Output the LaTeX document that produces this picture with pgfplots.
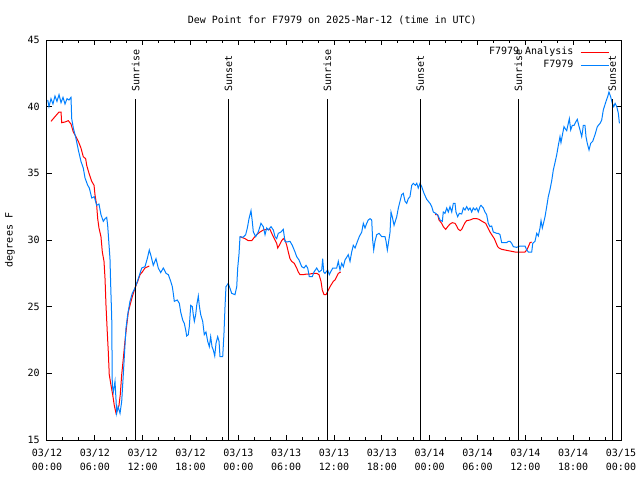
\documentclass[border=0pt]{standalone}
\usepackage{fontspec}
\setmainfont{DejaVu Sans Mono}
\usepackage{pgfplots}
\pgfplotsset{compat=1.18}
\definecolor{gpblue}{RGB}{0,128,255}
\definecolor{gpred}{RGB}{255,0,0}
\pgfplotstableread{
h v
0.09 40.5
0.25 40.0
0.50 40.6
0.75 40.2
1.00 40.8
1.25 40.4
1.51 40.9
1.76 40.3
2.01 40.7
2.26 40.2
2.51 40.6
2.76 40.5
3.01 40.7
3.10 39.1
3.30 38.4
3.64 37.6
3.93 36.75
4.26 35.9
4.55 35.4
4.77 34.65
5.11 34.1
5.31 33.9
5.61 33.15
5.93 33.25
6.23 32.6
6.52 32.7
6.77 31.9
7.06 31.4
7.28 31.6
7.49 31.7
7.61 31.1
7.90 28.6
7.99 26.6
8.12 24.15
8.19 19.1
8.32 18.6
8.53 19.4
8.66 18.0
8.74 17.0
8.91 17.5
9.16 17.0
9.37 17.9
9.57 19.9
9.78 22.1
9.91 23.4
10.12 24.4
10.41 25.4
10.70 26.0
11.04 26.4
11.45 27.1
11.88 27.9
12.29 28.0
12.58 28.6
12.83 29.25
13.05 28.8
13.33 28.1
13.67 28.6
13.96 27.9
14.26 27.55
14.59 27.9
14.93 27.5
15.22 27.4
15.52 26.9
15.72 26.5
15.84 26.0
15.97 25.4
16.34 25.5
16.60 25.25
16.77 24.6
17.02 24.0
17.22 23.75
17.40 23.25
17.52 22.8
17.72 22.9
17.85 23.5
18.03 25.1
18.23 25.0
18.35 24.4
18.48 23.9
18.65 24.4
18.78 25.1
18.98 25.8
19.10 25.1
19.28 24.4
19.53 23.9
19.73 22.9
19.94 23.1
20.16 22.4
20.36 22.0
20.53 22.75
20.70 22.0
20.86 21.75
21.04 21.3
21.20 22.25
21.41 22.75
21.58 22.4
21.70 21.25
22.04 21.25
22.20 23.0
22.33 25.0
22.45 26.5
22.74 26.75
23.17 26.0
23.58 25.9
23.80 26.5
23.92 27.9
24.08 28.9
24.21 30.25
24.58 30.2
24.92 30.4
25.13 30.9
25.34 31.6
25.59 32.2
25.75 31.4
25.88 30.6
26.18 30.25
26.50 30.6
26.84 31.25
27.13 31.0
27.35 30.4
27.56 30.9
27.76 30.75
28.10 31.0
28.39 30.75
28.60 30.25
28.81 30.1
29.01 30.5
29.35 30.6
29.64 30.8
29.85 29.9
30.07 29.85
30.48 29.9
30.77 29.6
31.11 29.1
31.32 28.75
31.61 28.5
31.95 28.0
32.24 27.9
32.49 28.1
32.70 27.9
32.90 27.25
33.28 27.25
33.49 27.6
33.83 27.9
34.12 27.6
34.46 27.75
34.58 28.6
34.71 27.6
34.87 27.5
35.21 27.75
35.41 27.4
35.71 27.75
35.84 27.9
36.13 27.9
36.34 27.9
36.54 28.4
36.75 27.75
36.97 28.25
37.17 28.0
37.38 28.5
37.79 28.9
38.01 28.4
38.22 29.1
38.42 29.6
38.64 29.4
38.85 29.75
39.17 30.25
39.48 30.6
39.68 31.25
39.89 30.9
40.10 31.25
40.30 31.5
40.52 31.6
40.73 31.5
40.85 30.0
40.98 29.25
41.14 29.9
41.36 30.4
41.65 30.5
41.99 30.25
42.40 30.25
42.53 29.9
42.69 29.25
42.86 29.9
43.03 30.6
43.15 32.1
43.31 31.75
43.53 31.1
43.87 31.75
44.07 32.4
44.28 32.9
44.49 33.4
44.69 33.5
44.91 32.9
45.12 32.75
45.32 33.1
45.53 33.25
45.75 34.1
45.95 34.25
46.20 34.1
46.38 34.25
46.57 33.9
46.79 34.25
47.00 34.0
47.29 33.5
47.63 33.05
48.04 32.75
48.26 32.5
48.46 32.1
48.76 32.0
49.08 31.8
49.30 31.5
49.59 31.4
49.71 32.1
49.92 32.0
50.14 32.4
50.34 32.1
50.55 32.5
50.77 32.1
50.97 32.75
51.18 32.75
51.30 32.1
51.51 31.75
51.72 32.0
52.02 31.95
52.22 32.4
52.43 32.25
52.64 32.5
52.85 32.25
53.06 32.4
53.27 32.1
53.47 32.4
53.69 32.25
53.90 32.4
54.10 32.1
54.31 32.5
54.44 32.6
54.73 32.4
54.94 32.1
55.15 31.9
55.35 31.25
55.57 31.0
55.78 31.05
55.98 30.6
56.41 30.5
56.61 30.5
56.82 30.4
57.04 29.8
57.66 29.8
57.86 29.9
58.08 29.9
58.29 29.75
58.49 29.5
58.92 29.45
59.33 29.55
59.96 29.55
60.17 29.25
60.38 29.1
60.80 29.1
60.93 29.75
61.21 29.9
61.43 30.5
61.63 30.3
61.84 30.9
61.97 31.45
62.13 30.9
62.26 31.2
62.47 31.75
62.68 32.5
62.88 33.25
63.10 33.8
63.31 34.45
63.51 35.25
63.72 35.8
63.94 36.4
64.14 37.1
64.35 37.75
64.47 37.3
64.69 38.0
64.85 38.5
65.06 38.3
65.19 38.2
65.39 38.75
65.52 39.1
65.69 38.25
65.89 38.6
66.11 38.6
66.32 38.85
66.52 39.05
66.70 38.6
66.86 38.25
67.07 37.75
67.20 38.25
67.27 38.6
67.48 38.6
67.61 37.75
67.77 37.25
67.99 36.75
68.20 37.25
68.45 37.4
68.74 37.9
69.03 38.5
69.37 38.75
69.58 39.0
69.78 39.75
70.12 40.4
70.33 40.75
70.49 41.1
70.70 40.75
70.91 40.25
71.09 40.0
71.26 40.25
71.47 40.0
71.67 39.5
71.80 38.75
}\obs
\pgfplotstableread{
h v
0.50 38.9
1.22 39.4
1.51 39.6
1.76 39.6
1.84 38.8
2.26 38.85
2.67 38.95
3.01 38.7
3.30 38.1
3.64 37.75
3.93 37.4
4.26 36.9
4.55 36.25
4.85 36.1
4.98 35.6
5.27 35.0
5.61 34.4
5.90 34.1
6.02 33.4
6.23 32.6
6.36 31.6
6.52 30.9
6.77 30.25
6.94 29.1
7.15 28.4
7.28 27.1
7.40 25.1
7.56 23.1
7.69 21.6
7.81 19.9
8.03 19.1
8.24 18.4
8.44 17.6
8.66 17.0
8.87 17.3
9.03 17.6
9.19 18.4
9.37 19.9
9.57 21.1
9.78 22.4
10.00 23.6
10.20 24.6
10.41 25.1
10.70 25.75
11.04 26.4
11.38 26.9
11.67 27.4
11.95 27.6
12.29 27.9
12.83 28.05
18.00 nan
24.21 30.25
24.84 30.1
25.25 29.95
25.68 29.95
26.00 30.2
26.30 30.4
26.72 30.6
27.13 30.75
27.56 30.8
27.97 30.8
28.19 30.5
28.51 30.1
28.81 29.75
28.94 29.4
29.14 29.6
29.44 29.95
29.64 30.1
29.85 30.0
30.07 29.6
30.27 29.1
30.48 28.6
30.69 28.4
31.02 28.25
31.32 27.9
31.52 27.6
31.74 27.4
32.15 27.4
32.58 27.45
32.99 27.45
33.40 27.5
33.83 27.5
34.12 27.4
34.37 26.9
34.53 26.25
34.75 25.9
35.00 25.9
35.29 26.25
35.50 26.5
35.71 26.7
35.91 26.9
36.13 27.0
36.34 27.25
36.54 27.5
36.84 27.6
42.00 nan
48.67 31.9
49.00 31.9
49.17 31.5
49.51 31.25
49.71 31.0
50.01 30.8
50.26 31.0
50.55 31.2
50.84 31.3
51.18 31.25
51.39 31.05
51.59 30.8
51.84 30.7
52.02 30.8
52.22 31.05
52.43 31.3
52.64 31.45
53.06 31.5
53.47 31.6
53.90 31.6
54.19 31.55
54.44 31.45
54.73 31.35
55.03 31.25
55.28 30.95
55.57 30.6
55.78 30.4
56.11 30.1
56.32 29.8
56.53 29.5
56.70 29.4
57.04 29.3
57.45 29.25
57.86 29.2
58.29 29.15
58.70 29.1
59.33 29.1
59.96 29.1
60.17 29.25
60.38 29.5
60.59 29.8
60.80 29.85
}\ana
\begin{document}
\begin{tikzpicture}[font=\fontsize{7.5}{10.5}\selectfont]
\path[use as bounding box, fill=white] (0,0) rectangle (480pt,360pt);
\begin{axis}[
  at={(35.25pt,30pt)}, anchor=south west,
  scale only axis, width=430.5pt, height=300pt,
  xmin=0, xmax=72, ymin=15, ymax=45,
  axis line style={line width=0.75pt, black},
  xtick={0,6,...,72},
  xticklabels={{03/12\\00:00},{03/12\\06:00},{03/12\\12:00},{03/12\\18:00},{03/13\\00:00},{03/13\\06:00},{03/13\\12:00},{03/13\\18:00},{03/14\\00:00},{03/14\\06:00},{03/14\\12:00},{03/14\\18:00},{03/15\\00:00}},
  minor x tick num=2,
  ytick={15,20,...,45},
  /pgf/number format/assume math mode=true,
  tick align=inside,
  major tick length=4pt, minor tick length=2pt,
  every tick/.style={black, line width=0.75pt},
  xticklabel style={align=center, inner sep=0pt, yshift=-6.5pt, font=\fontsize{7.5}{10.5}\selectfont},
  yticklabel style={inner sep=0pt, xshift=-5.25pt, font=\fontsize{7.5}{10.5}\selectfont},
  title={Dew Point for F7979 on 2025-Mar-12 (time in UTC)},
  every axis title shift=0pt,
  title style={at={(axis description cs:0.497,1.05)}, anchor=center, yshift=0pt, inner sep=0pt},
  ylabel={degrees F},
  ylabel style={at={(axis description cs:-0.0645,0.5)}, anchor=center, inner sep=0pt},
  legend plot pos=right,
  legend cell align=right,
  legend image code/.code={\draw[#1] (0pt,0pt) -- (21pt,0pt);},
  legend style={at={(axis description cs:0.9796,0.9825)}, anchor=north east, draw=none, fill=none,
    inner sep=0pt, row sep=2.5pt, font=\fontsize{7.5}{9}\selectfont,
    nodes={inner sep=0pt, text height=5.6pt, text depth=1.6pt},
    /tikz/every odd column/.style={column sep=5pt}},
  unbounded coords=jump,
  clip=true,
]
\addplot[gpred, line width=0.75pt] table[x=h, y=v] {\ana};
\addlegendentry{F7979 Analysis}
\addplot[gpblue, line width=0.75pt] table[x=h, y=v] {\obs};
\addlegendentry{F7979}
\addplot[black, line width=0.75pt, forget plot] coordinates {(11.13,15) (11.13,40.57)};
\addplot[black, line width=0.75pt, forget plot] coordinates {(22.77,15) (22.77,40.57)};
\addplot[black, line width=0.75pt, forget plot] coordinates {(35.16,15) (35.16,40.57)};
\addplot[black, line width=0.75pt, forget plot] coordinates {(46.83,15) (46.83,40.57)};
\addplot[black, line width=0.75pt, forget plot] coordinates {(59.12,15) (59.12,40.57)};
\addplot[black, line width=0.75pt, forget plot] coordinates {(70.91,15) (70.91,40.57)};
\node[rotate=90, anchor=west, inner sep=0pt] at (axis cs:11.13,41.1) {Sunrise};
\node[rotate=90, anchor=west, inner sep=0pt] at (axis cs:22.77,41.1) {Sunset};
\node[rotate=90, anchor=west, inner sep=0pt] at (axis cs:35.16,41.1) {Sunrise};
\node[rotate=90, anchor=west, inner sep=0pt] at (axis cs:46.83,41.1) {Sunset};
\node[rotate=90, anchor=west, inner sep=0pt] at (axis cs:59.12,41.1) {Sunrise};
\node[rotate=90, anchor=west, inner sep=0pt] at (axis cs:70.91,41.1) {Sunset};
\end{axis}
\end{tikzpicture}
\end{document}
